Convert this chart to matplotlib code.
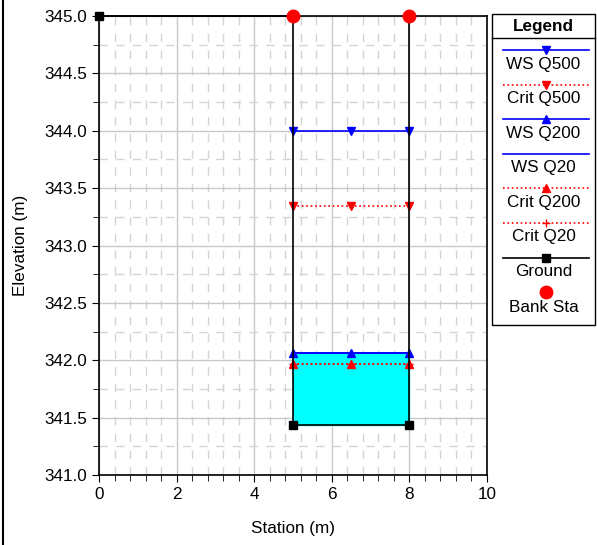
import matplotlib
matplotlib.use("Agg")
import matplotlib.pyplot as plt
from matplotlib.ticker import MultipleLocator
import numpy as np

plt.rcParams['font.family'] = ['Liberation Sans', 'DejaVu Sans']

# Data
ground_x = [0, 5, 5, 8, 8]
ground_y = [345.0, 345.0, 341.44, 341.44, 345.0]
ground_marker_x = [0, 5, 8]
ground_marker_y = [345.0, 341.44, 341.44]
bank_x = [5, 8]
bank_y = [345.0, 345.0]
ws_x = [5, 6.5, 8]
ws_q500 = 344.0
crit_q500 = 343.34
ws_q200 = 342.06
ws_q20 = 342.06
crit_q200 = 341.97
crit_q20 = 341.97

W, H = 597, 545
fig = plt.figure(figsize=(W/100, H/100), dpi=100)
ax = fig.add_axes([99/W, 1-475/H, (487-99)/W, (475-16)/H])

ax.set_xlim(0, 10)
ax.set_ylim(341, 345)
ax.xaxis.set_major_locator(MultipleLocator(2))
ax.xaxis.set_minor_locator(MultipleLocator(0.4))
ax.yaxis.set_major_locator(MultipleLocator(0.5))
ax.yaxis.set_minor_locator(MultipleLocator(0.25))
ax.yaxis.set_major_formatter(matplotlib.ticker.FormatStrFormatter('%.1f'))
ax.grid(which='major', color='#c8c8c8', lw=1.0, ls='-')
ax.grid(which='minor', color='#d4d4d4', lw=1.0, ls=(0, (6, 6)))
ax.set_axisbelow(True)
ax.tick_params(which='major', length=5, labelsize=12.3, direction='out', color='black')
ax.tick_params(which='minor', length=4, direction='out')
ax.set_xlabel('Station (m)', fontsize=12.3, labelpad=14)
ax.set_ylabel('Elevation (m)', fontsize=12.3, labelpad=12)
for s in ax.spines.values():
    s.set_linewidth(1.2)

# water fill (Q20)
ax.fill_between([5, 8], [341.44, 341.44], [ws_q20, ws_q20], color='#00ffff', zorder=2)

# WS lines
ax.plot(ws_x, [ws_q500]*3, color='blue', lw=1.2, marker='v', ms=6, zorder=4)
ax.plot(ws_x, [crit_q500]*3, color='red', lw=1.2, ls=':', marker='v', ms=6, zorder=4)
ax.plot(ws_x, [ws_q20]*3, color='blue', lw=1.2, zorder=4)
ax.plot(ws_x, [ws_q200]*3, color='blue', lw=1.2, marker='^', ms=6, zorder=4)
ax.plot(ws_x, [crit_q20]*3, color='red', lw=1.2, ls=':', marker='+', ms=6, zorder=4)
ax.plot(ws_x, [crit_q200]*3, color='red', lw=1.2, ls=':', marker='^', ms=6, zorder=4)

# Ground
ax.plot(ground_x, ground_y, color='black', lw=1.2, zorder=5, clip_on=False)
ax.plot(ground_marker_x, ground_marker_y, ls='none', marker='s', color='black', ms=6, zorder=6, clip_on=False)
ax.plot(bank_x, bank_y, ls='none', marker='o', color='red', ms=9, zorder=7, clip_on=False)

# Legend drawn in pixel coords
lax = fig.add_axes([0, 0, 1, 1], facecolor='none')
lax.set_xlim(0, W)
lax.set_ylim(H, 0)
lax.axis('off')
lax.add_patch(plt.Rectangle((492, 14), 103, 311, fill=False, ec='black', lw=1.0))
lax.plot([492, 595], [38, 38], color='black', lw=1.0)
lax.text(543.5, 26, 'Legend', ha='center', va='center', fontsize=12.3, fontweight='bold')
entries = [
    ('WS Q500', dict(color='blue', ls='-', marker='v')),
    ('Crit Q500', dict(color='red', ls=':', marker='v')),
    ('WS Q200', dict(color='blue', ls='-', marker='^')),
    ('WS Q20', dict(color='blue', ls='-', marker=None)),
    ('Crit Q200', dict(color='red', ls=':', marker='^')),
    ('Crit Q20', dict(color='red', ls=':', marker='+')),
    ('Ground', dict(color='black', ls='-', marker='s')),
]
y0 = 50
dy = 34.6
for i, (lab, st) in enumerate(entries):
    yl = y0 + i*dy
    lax.plot([503, 589], [yl, yl], color=st['color'], ls=st['ls'], lw=1.2)
    if st['marker']:
        lax.plot([546], [yl], marker=st['marker'], color=st['color'], ms=6, ls='none')
    lax.text(543.5, yl + 14, lab, ha='center', va='center', fontsize=12.3)
yl = y0 + 7*dy
lax.plot([546], [yl], marker='o', color='red', ms=9, ls='none')
lax.text(543.5, yl + 15, 'Bank Sta', ha='center', va='center', fontsize=12.3)
# left frame line
lax.plot([3, 3], [0, H], color='black', lw=1.5)

fig.savefig('out.png', dpi=100)
